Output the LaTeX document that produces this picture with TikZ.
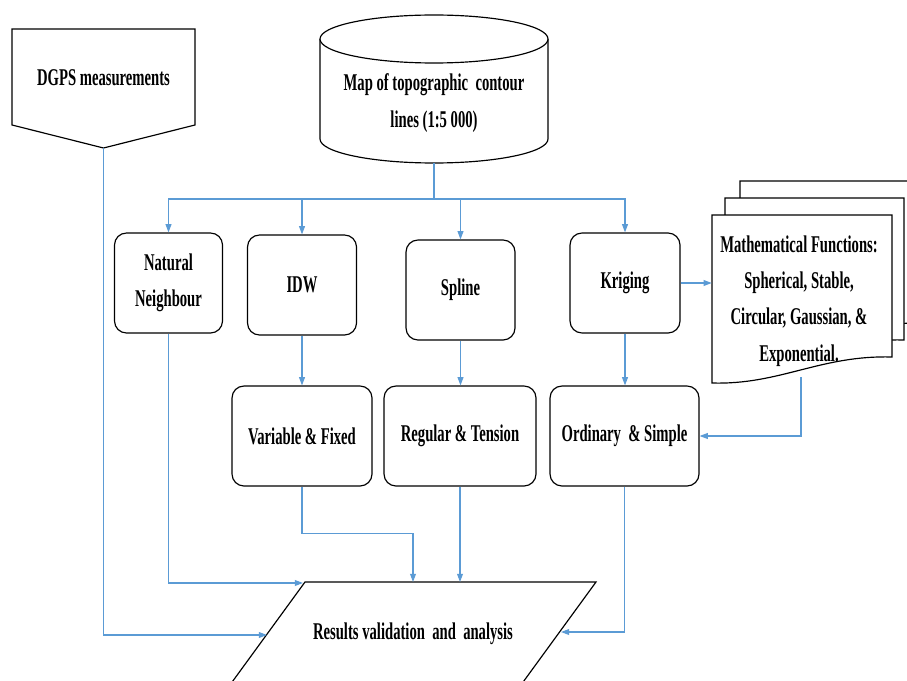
\documentclass[tikz,border=0pt]{standalone}
\usepackage{fontspec}
\setmainfont[FakeStretch=0.61]{Liberation Serif}
\usetikzlibrary{arrows.meta}
\definecolor{linkblue}{RGB}{91,155,213}
\begin{document}
\begin{tikzpicture}[x=0.03cm,y=0.03cm,
  font=\bfseries\fontsize{20.5}{31}\selectfont,
  rbox/.style={draw, line width=1pt, rounded corners=0.36cm, align=center, inner sep=0pt, minimum height=3cm},
  txt/.style={align=center, inner sep=0pt},
  shapeline/.style={draw, line width=1pt, fill=white},
  conn/.style={draw=linkblue, line width=0.9pt},
  arr/.style={conn, -{Triangle[length=7pt,width=5pt]}}]
\useasboundingbox (0,-680) rectangle (907,0);
\fill[white] (0,-680) rectangle (907,0);

% DGPS off-page connector
\draw[shapeline] (12,-29) -- (195,-29) -- (195,-125) -- (103.5,-148) -- (12,-125) -- cycle;
\node[txt] (dgps) at (103.5,-78) {DGPS measurements};
\coordinate (dgpstip) at (103.5,-148);

% Cylinder
\draw[shapeline] (320,-39) -- (320,-139) arc[start angle=180,end angle=360,x radius=114,y radius=24] -- (548,-39);
\draw[shapeline] (434,-39) ellipse[x radius=114,y radius=24];
\node[txt] (cyl) at (434,-103) {Map of topographic\ \ contour\\lines (1:5 000)};
\coordinate (cylb) at (434,-163);
\coordinate (bus) at (434,-199);

% Method boxes
\node[rbox, minimum width=3.24cm] (nn) at (168.5,-283) {Natural\\Neighbour};
\node[rbox, minimum width=3.27cm] (idw) at (302,-285) {IDW};
\node[rbox, minimum width=3.27cm] (spl) at (460.5,-290) {Spline};
\node[rbox, minimum width=3.3cm] (krg) at (625,-283) {Kriging};

\node[rbox, minimum width=4.2cm] (var) at (302,-436) {Variable \& Fixed};
\node[rbox, minimum width=4.56cm] (reg) at (460,-436) {Regular \& Tension};
\node[rbox, minimum width=4.47cm] (ord) at (624.5,-436) {Ordinary\ \ \& Simple};

% Document stack
\draw[shapeline] (740,-181) -- (930,-181) -- (930,-323) .. controls (846,-321) and (806,-351) .. (740,-349) -- cycle;
\draw[shapeline] (725,-198) -- (904,-198) -- (904,-340) .. controls (832,-338) and (792,-368) .. (725,-366) -- cycle;
\draw[shapeline] (712,-215) -- (892,-215) -- (892,-357) .. controls (820,-355) and (780,-385) .. (712,-383) -- cycle;
\node[txt, minimum width=5.4cm, minimum height=5.04cm] (mf) at (802,-299) {};
\node[txt] (mftext) at (799,-301) {Mathematical Functions:\\Spherical, Stable,\\Circular,\ Gaussian, \&\\Exponential.};
\coordinate (mfb) at (801,-377);

% Results parallelogram
\draw[shapeline] (305,-582) -- (596,-582) -- (510,-700) -- (219,-700) -- cycle;
\node[txt] (res) at (413,-634) {Results validation\ \ and\ \ analysis};
\coordinate (resTL) at (303,-583);
\coordinate (resA) at (413,-582);
\coordinate (resB) at (460,-582);
\coordinate (resL) at (267,-635);
\coordinate (resR) at (561,-632);

% Connectors
\draw[conn] (cylb) -- (bus);
\draw[arr] (bus) -| (nn.north);
\draw[arr] (bus) -| (idw.north);
\draw[arr] (bus) -| (spl.north);
\draw[arr] (bus) -| (krg.north);
\draw[arr] (krg.east) -- (krg.east -| mf.west);
\draw[arr] (idw.south) -- (var.north);
\draw[arr] (spl.south) -- (spl.south |- reg.north);
\draw[arr] (krg.south) -- (krg.south |- ord.north);
\draw[arr] (mfb) |- (ord.east);
\draw[arr] (nn.south) |- (resTL);
\draw[arr] (var.south) -- ++(0,-47) -| (resA);
\draw[arr] (reg.south) -- (resB);
\draw[arr] (ord.south) |- (resR);
\draw[arr] (dgpstip) |- (resL);
\end{tikzpicture}
\end{document}
